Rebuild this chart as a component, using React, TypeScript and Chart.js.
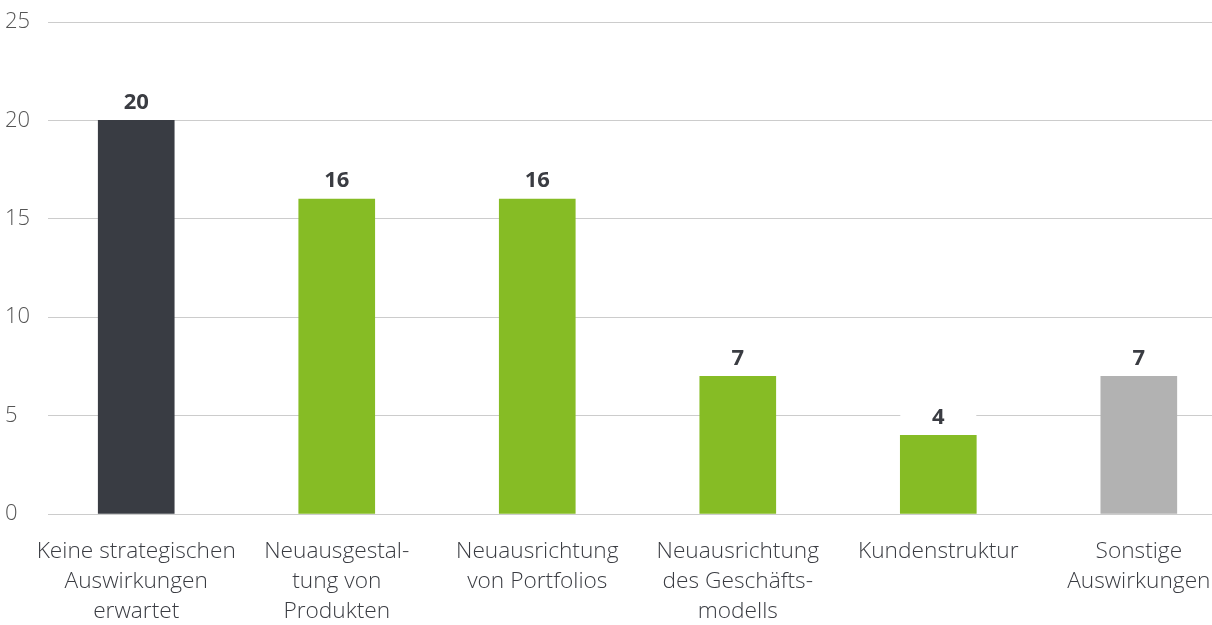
import React, { useEffect, useRef } from "react";
import { Chart, registerables } from "chart.js";

Chart.register(...registerables);

const categories: string[][] = [
  ["Keine strategischen", "Auswirkungen", "erwartet"],
  ["Neuausgestal-", "tung von", "Produkten"],
  ["Neuausrichtung", "von Portfolios"],
  ["Neuausrichtung", "des Geschäfts-", "modells"],
  ["Kundenstruktur"],
  ["Sonstige", "Auswirkungen"],
];
const values: number[] = [20, 16, 16, 7, 4, 7];
const barColors: string[] = ["#393c43", "#86bc25", "#86bc25", "#86bc25", "#86bc25", "#b2b2b2"];
const yTicks: number[] = [0, 5, 10, 15, 20, 25];

const valueLabels = {
  id: "valueLabels",
  afterDatasetsDraw(chart: any) {
    const ctx = chart.ctx;
    const meta = chart.getDatasetMeta(0);
    ctx.save();
    meta.data.forEach((bar: any, i: number) => {
      const cx = bar.x;
      const cy = bar.y - 18;
      ctx.fillStyle = "#ffffff";
      ctx.fillRect(cx - 38, cy - 13, 76, 26);
      ctx.fillStyle = "#3a3c42";
      ctx.font = "bold 22px 'Open Sans'";
      ctx.textAlign = "center";
      ctx.textBaseline = "middle";
      ctx.fillText(String(values[i]), cx, cy);
    });
    ctx.restore();
  },
};

export default function App() {
  const ref = useRef<HTMLCanvasElement>(null);
  useEffect(() => {
    if (!ref.current) return;
    const chart = new Chart(ref.current, {
      type: "bar",
      data: {
        datasets: [
          {
            data: values.map((v, i) => ({ x: i, y: v })),
            backgroundColor: barColors,
            barThickness: 76,
            borderWidth: 0,
          },
        ],
      },
      options: {
        animation: false,
        responsive: true,
        maintainAspectRatio: false,
        layout: { padding: { left: 5, top: 22, right: 0, bottom: 0 } },
        plugins: { legend: { display: false }, tooltip: { enabled: false } },
        scales: {
          x: {
            type: "linear",
            offset: false,
            bounds: "data",
            min: -0.44,
            max: 5.365,
            afterBuildTicks: (scale: any) => {
              scale.ticks = categories.map((_, i) => ({ value: i }));
            },
            afterFit: (scale: any) => {
              scale.height = 111;
              scale.paddingLeft = 0;
              scale.paddingRight = 0;
            },
            grid: { display: false },
            border: { display: false },
            ticks: {
              autoSkip: false,
              maxRotation: 0,
              padding: 15,
              color: "#3a3c42",
              font: { family: "'Open Sans'", size: 22.7, weight: "300", lineHeight: "30px" },
              callback: (v: any) => categories[Math.round(Number(v))] ?? "",
            },
          },
          y: {
            min: 0,
            max: 25,
            afterBuildTicks: (scale: any) => {
              scale.ticks = yTicks.map((v) => ({ value: v }));
            },
            afterFit: (scale: any) => {
              scale.width = 43;
            },
            grid: { color: "#cccccc", lineWidth: 1, drawTicks: false },
            border: { display: false },
            ticks: {
              crossAlign: "far",
              padding: 0,
              color: "#555555",
              font: { family: "'Open Sans'", size: 22, weight: "300" },
            },
          },
        },
      },
      plugins: [valueLabels],
    } as any);
    return () => chart.destroy();
  }, []);
  return (
    <div style={{ position: "fixed", left: 0, top: 0, width: 1212, height: 625, background: "#fff" }}>
      <canvas ref={ref} />
    </div>
  );
}
